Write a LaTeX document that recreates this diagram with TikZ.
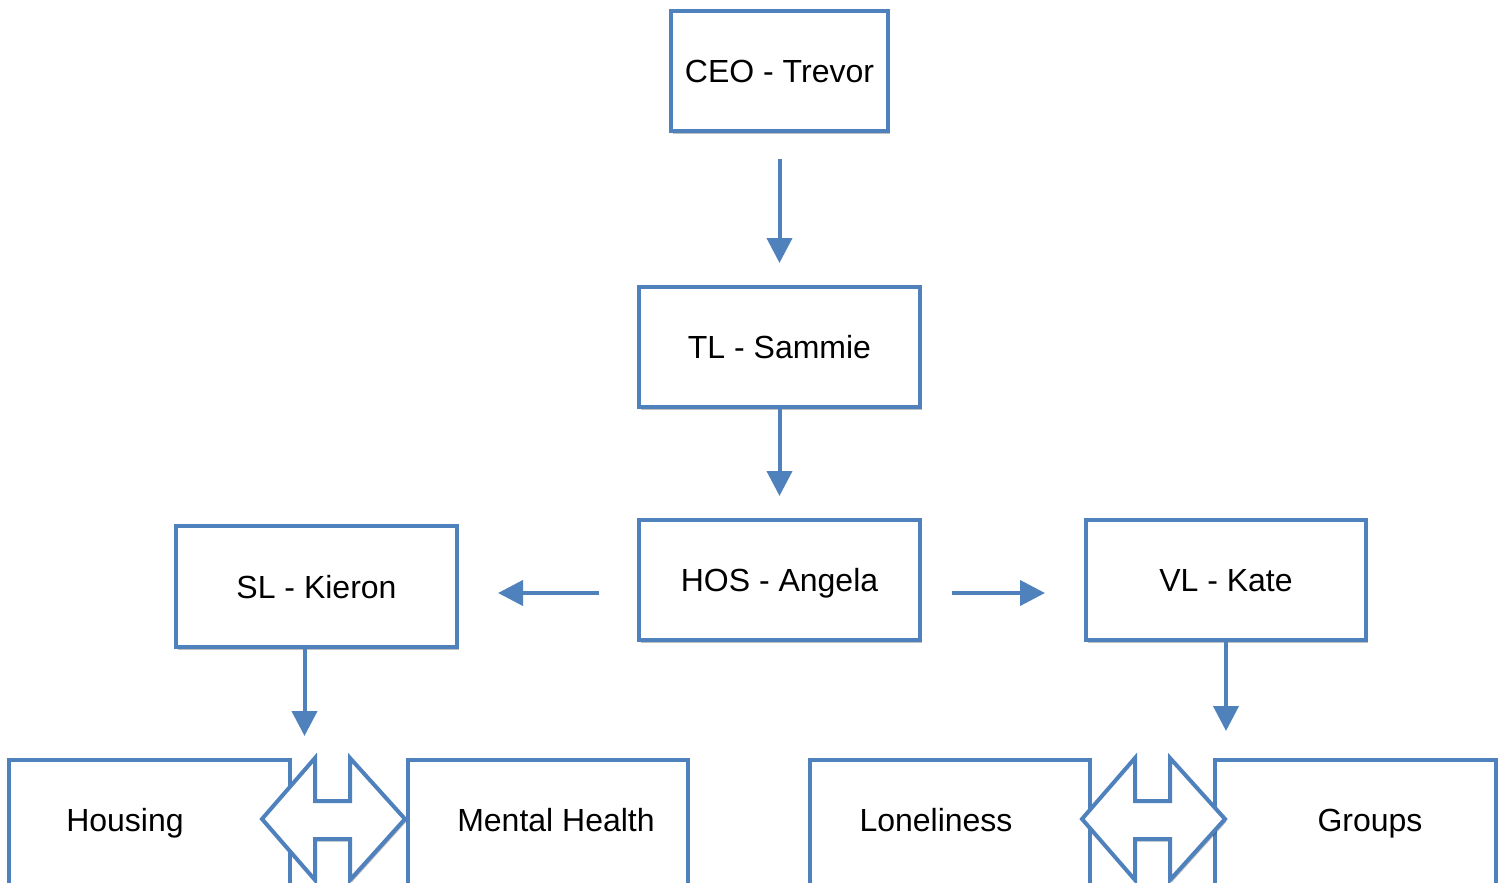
\documentclass[tikz,border=0pt]{standalone}
\usepackage{fontspec}
\setmainfont{Liberation Sans}
\usetikzlibrary{arrows.meta,shadows}
\definecolor{oblue}{RGB}{79,129,189}
\begin{document}
\begin{tikzpicture}[x=0.5pt,y=-0.5pt,
  box/.style={draw=oblue,line width=2pt,fill=white,rectangle,inner sep=0pt,
    font=\fontsize{16}{19}\selectfont,text height=11.6pt,text depth=0pt,
    drop shadow={shadow xshift=0.8pt,shadow yshift=-1.3pt,opacity=0.25,fill=black}},
  lbl/.style={inner sep=0pt,font=\fontsize{16}{19}\selectfont,text height=11.6pt,text depth=0pt},
  conn/.style={draw=oblue,line width=2pt,-{Triangle[length=12.5pt,width=12.5pt]}},
  dbl/.style={draw=oblue,line width=2pt,fill=white,line join=miter,
    drop shadow={shadow xshift=0.8pt,shadow yshift=-1.3pt,opacity=0.25,fill=black}}]
\useasboundingbox (0,0) rectangle (1505,883);
\clip (0,0) rectangle (1505,883);
% top boxes
\node[box,minimum width=217*0.5pt,minimum height=120*0.5pt] (ceo) at (779.5,71) {CEO - Trevor};
\node[box,minimum width=281*0.5pt,minimum height=120*0.5pt] (tl) at (779.5,347) {TL - Sammie};
\node[box,minimum width=281*0.5pt,minimum height=120*0.5pt] (hos) at (779.5,580) {HOS - Angela};
\node[box,minimum width=281*0.5pt,minimum height=121*0.5pt] (sl) at (316.5,586.5) {SL - Kieron};
\node[box,minimum width=280*0.5pt,minimum height=120*0.5pt] (vl) at (1226,580) {VL - Kate};
% bottom boxes
\node[box,minimum width=281*0.5pt,minimum height=130*0.5pt] (housing) at (149.5,825) {};
\node[box,minimum width=280*0.5pt,minimum height=130*0.5pt] (mental) at (548,825) {};
\node[box,minimum width=280*0.5pt,minimum height=130*0.5pt] (lonely) at (950,825) {};
\node[box,minimum width=281*0.5pt,minimum height=130*0.5pt] (groups) at (1355.5,825) {};
\node[lbl] (housingt) at (125,820) {Housing};
\node[lbl] (mentalt) at (556,820) {Mental Health};
\node[lbl] (lonelyt) at (936,820) {Loneliness};
\node[lbl] (groupst) at (1370,820) {Groups};
% connectors
\draw[conn,shorten <=13pt,shorten >=11pt] (ceo.south) -- (tl.north);
\draw[conn,shorten >=11pt] (tl.south) -- (hos.north);
\draw[conn,shorten <=19pt,shorten >=19.5pt] ([yshift=-6.5pt]hos.west) -- ([yshift=-6.5pt]hos.west -| sl.east);
\draw[conn,shorten <=15pt,shorten >=19.5pt] ([yshift=-6.5pt]hos.east) -- ([yshift=-6.5pt]hos.east -| vl.west);
\draw[conn,shorten >=11pt] ([xshift=-6pt]sl.south) -- ([xshift=-6pt]sl.south |- housing.north);
\draw[conn,shorten >=13.5pt] (vl.south) -- (vl.south |- groups.north);
% double arrows
\draw[dbl] (262,819) -- (315,758) -- (315,801) -- (350,801) -- (350,758) -- (405,819)
  -- (350,880) -- (350,839) -- (315,839) -- (315,880) -- cycle;
\draw[dbl] (1082,819) -- (1135,758) -- (1135,801) -- (1170,801) -- (1170,758) -- (1225,819)
  -- (1170,880) -- (1170,839) -- (1135,839) -- (1135,880) -- cycle;
\end{tikzpicture}
\end{document}
